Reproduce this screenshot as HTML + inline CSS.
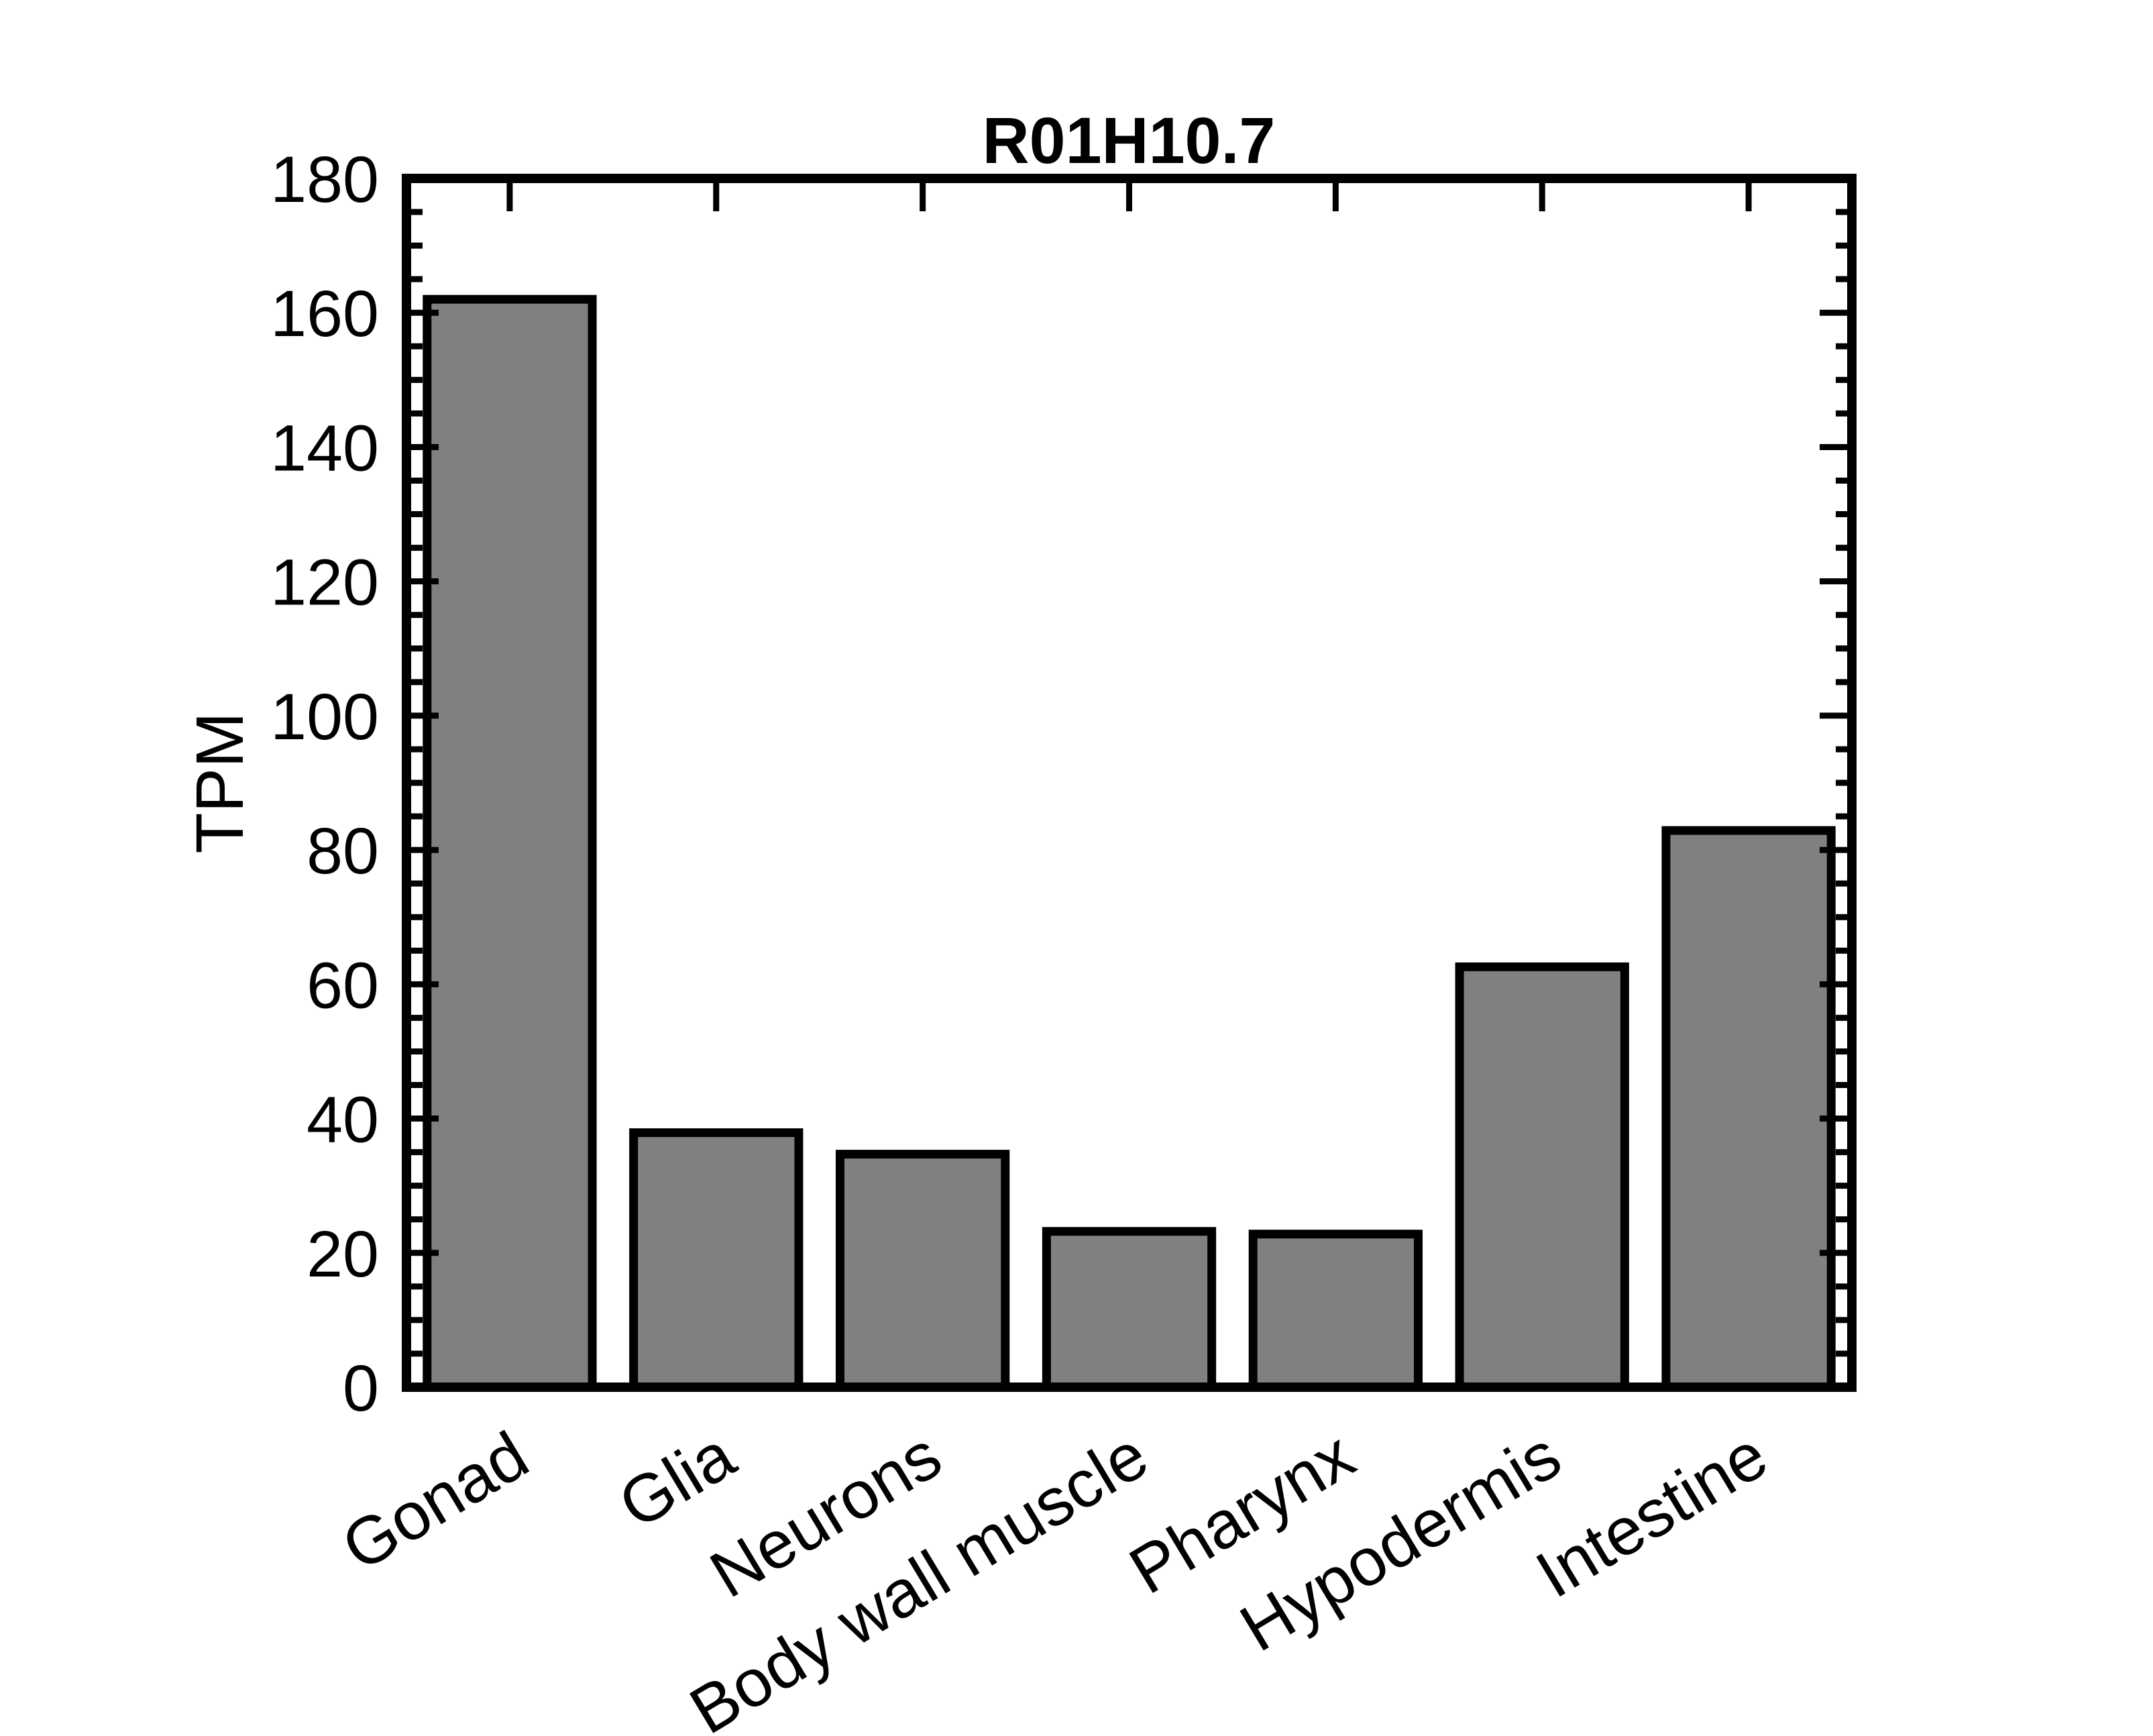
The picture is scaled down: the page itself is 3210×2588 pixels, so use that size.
<!DOCTYPE html>
<html><head><meta charset="utf-8"><style>
html,body{margin:0;padding:0;background:#fff}
svg{display:block;font-family:"Liberation Sans",Arial,sans-serif}
</style></head><body>
<svg id="chart" width="3210" height="2588" viewBox="0 0 3210 2588">
<rect width="3210" height="2588" fill="#fff"/>
<g id="bars"></g>
<g id="axes"></g>
<text x="1683" y="243" text-anchor="middle" font-size="97" font-weight="bold">R01H10.7</text>
<text transform="translate(362,1167) rotate(-90)" text-anchor="middle" font-size="100">TPM</text>
</svg>
<script>
const categories = ["Gonad","Glia","Neurons","Body wall muscle","Pharynx","Hypodermis","Intestine"];
const values = [162, 37.9, 34.7, 23.2, 22.8, 62.6, 82.9];
const yTicks = [0,20,40,60,80,100,120,140,160,180];

const NS = "http://www.w3.org/2000/svg";
const L = 606, R = 2761, T = 266, B = 2068, yMax = 180;
const step = (R - L) / categories.length;
const y = v => B - (v / yMax) * (B - T);
const xc = i => L + step * (i + 0.5);
const bw = step * 0.8;
function mk(tag, attrs, parent) {
  const e = document.createElementNS(NS, tag);
  for (const k in attrs) e.setAttribute(k, attrs[k]);
  parent.appendChild(e);
  return e;
}
const svg = document.getElementById("chart");
const bars = document.getElementById("bars");
const axes = document.getElementById("axes");

values.forEach((v, i) => {
  const r = mk("rect", {x: xc(i) - bw/2, y: y(v), width: bw, height: B - y(v), fill: "#808080", stroke: "#000", "stroke-width": 13}, bars);
  
  
});

const frame = mk("rect", {x: L, y: T, width: R - L, height: B - T, fill: "none", stroke: "#000", "stroke-width": 14}, axes);



for (let v = 0; v <= yMax; v += 5) {
  const major = v % 20 === 0;
  const len = major ? 48 : 24;
  const t1 = mk("line", {x1: L, x2: L + len, y1: y(v), y2: y(v), stroke: "#000", "stroke-width": 9}, axes);
  
  
  const t2 = mk("line", {x1: R, x2: R - len, y1: y(v), y2: y(v), stroke: "#000", "stroke-width": 9}, axes);
  
  
}
yTicks.forEach(v => {
  const t = mk("text", {x: 565, y: y(v) + 35, "text-anchor": "end", "font-size": 97}, svg);
  t.textContent = v;
  
  
});
categories.forEach((c, i) => {
  const tk = mk("line", {x1: xc(i), x2: xc(i), y1: T, y2: T + 49, stroke: "#000", "stroke-width": 9}, axes);
  
  
  const t = mk("text", {"text-anchor": "end", "font-size": 100, transform: `translate(${xc(i) + 35},${2190}) rotate(-31)`}, svg);
  t.textContent = c;
  
  
});
</script>
</body></html>
